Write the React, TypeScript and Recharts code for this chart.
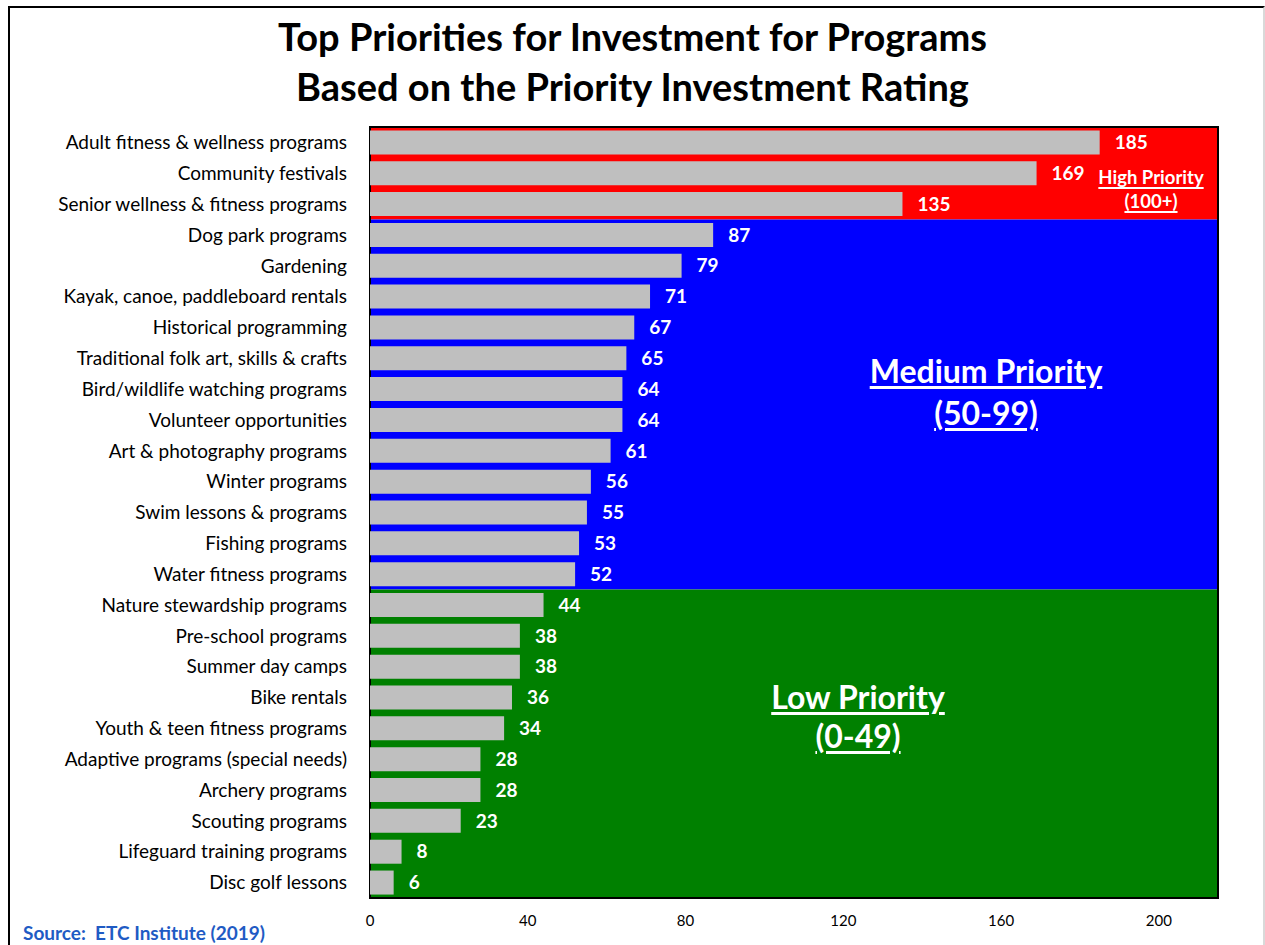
import { BarChart, Bar, XAxis, YAxis, ReferenceArea, LabelList } from 'recharts';

// program names, top to bottom
const programs = [
  'Adult fitness & wellness programs',
  'Community festivals',
  'Senior wellness & fitness programs ',
  'Dog park programs',
  'Gardening',
  'Kayak, canoe, paddleboard rentals ',
  'Historical programming',
  'Traditional folk art, skills & crafts',
  'Bird/wildlife watching programs ',
  'Volunteer opportunities',
  'Art & photography programs',
  'Winter programs',
  'Swim lessons & programs',
  'Fishing programs',
  'Water fitness programs',
  'Nature stewardship programs ',
  'Pre-school programs',
  'Summer day camps',
  'Bike rentals',
  'Youth & teen fitness programs',
  'Adaptive programs (special needs) ',
  'Archery programs',
  'Scouting programs',
  'Lifeguard training programs ',
  'Disc golf lessons',
];

const ratings = [185, 169, 135, 87, 79, 71, 67, 65, 64, 64, 61, 56, 55, 53, 52, 44, 38, 38, 36, 34, 28, 28, 23, 8, 6];

const xTicks = [0, 40, 80, 120, 160, 200];
const xMax = 215;

// priority zones: first / last program in each
const zones = [
  { from: 0, to: 2, color: '#FF0000' },
  { from: 3, to: 14, color: '#0000FF' },
  { from: 15, to: 24, color: '#008000' },
];

const data = programs.map((name, i) => ({ name, rating: ratings[i] }));

const overlay = (top: number, center: number, size: number): React.CSSProperties => ({
  position: 'absolute',
  top,
  left: center - 200,
  width: 400,
  textAlign: 'center',
  color: '#fff',
  fontWeight: 700,
  fontSize: size,
  textDecoration: 'underline',
  textDecorationThickness: size > 20 ? 3 : 2,
  textUnderlineOffset: 3,
  lineHeight: 1,
});

export default function App() {
  return (
    <div
      style={{
        position: 'absolute',
        left: 0,
        top: 0,
        width: 1265,
        height: 945,
        background: '#fff',
        fontFamily: 'Lato, sans-serif',
        overflow: 'hidden',
      }}
    >
      {/* frame */}
      <div
        style={{
          position: 'absolute',
          left: 8,
          top: 6,
          width: 1253,
          height: 960,
          borderLeft: '2px solid #000',
          borderTop: '2px solid #000',
          borderRight: '2px solid #d9d9d9',
        }}
      />
      <div
        style={{
          position: 'absolute',
          top: 11,
          left: 0,
          width: 1265,
          textAlign: 'center',
          fontWeight: 700,
          fontSize: 38,
          lineHeight: '50px',
          color: '#000',
        }}
      >
        Top Priorities for Investment for Programs
        <br />
        Based on the Priority Investment Rating
      </div>

      <div style={{ position: 'absolute', left: 0, top: 0 }}>
        <BarChart
          width={1265}
          height={945}
          data={data}
          layout="vertical"
          margin={{ top: 127, right: 47, bottom: 17, left: 10 }}
          barCategoryGap="11%"
        >
          {zones.map((z) => (
            <ReferenceArea
              key={z.color}
              x1={0}
              x2={xMax}
              y1={programs[z.from]}
              y2={programs[z.to]}
              fill={z.color}
              fillOpacity={1}
              stroke="none"
              ifOverflow="visible"
            />
          ))}
          <ReferenceArea
            x1={0}
            x2={xMax}
            y1={programs[0]}
            y2={programs[programs.length - 1]}
            fill="none"
            stroke="#000"
            strokeWidth={2}
            ifOverflow="visible"
          />
          <XAxis
            type="number"
            domain={[0, xMax]}
            ticks={xTicks}
            height={30}
            axisLine={false}
            tickLine={false}
            tickSize={0}
            tickMargin={17}
            tick={{ fill: '#000', fontSize: 15 }}
          />
          <YAxis
            type="category"
            dataKey="name"
            width={360}
            interval={0}
            axisLine={false}
            tickLine={false}
            tickSize={0}
            tickMargin={23}
            tick={{ fill: '#000', fontSize: 19 }}
          />
          <Bar dataKey="rating" fill="#BFBFBF" isAnimationActive={false}>
            <LabelList
              dataKey="rating"
              position="right"
              offset={15}
              fill="#fff"
              fontSize={19}
              fontWeight={700}
            />
          </Bar>
        </BarChart>
      </div>

      <div style={overlay(168, 1151, 18.5)}>High Priority</div>
      <div style={overlay(192, 1151, 18.5)}>(100+)</div>
      <div style={overlay(355, 986, 32)}>Medium Priority</div>
      <div style={overlay(397, 986, 32)}>(50-99)</div>
      <div style={overlay(681, 858, 32)}>Low Priority</div>
      <div style={overlay(720, 858, 32)}>(0-49)</div>

      <div
        style={{
          position: 'absolute',
          left: 23,
          top: 923,
          fontSize: 19,
          lineHeight: 1,
          fontWeight: 700,
          color: '#1F5BC4',
          whiteSpace: 'pre',
        }}
      >
        {'Source:  ETC Institute (2019)'}
      </div>
    </div>
  );
}
